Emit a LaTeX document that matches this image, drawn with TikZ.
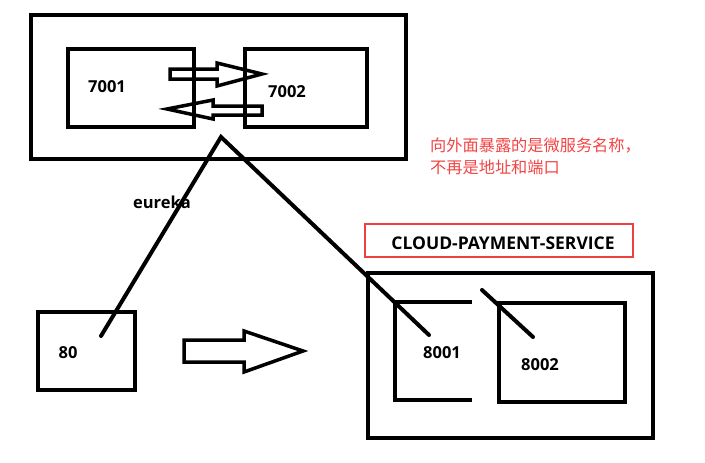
\documentclass[tikz,border=0pt]{standalone}
\usepackage{fontspec}
\setmainfont{Open Sans}
\newfontfamily\cjk{Noto Sans CJK SC}
\definecolor{redbox}{RGB}{238,64,64}
\definecolor{redtext}{RGB}{242,68,68}
\tikzset{
  bigbox/.style={draw=black, line width=4.5pt, inner sep=0pt, outer sep=0pt},
  connector/.style={draw=black, line width=4pt, line cap=round},
  blockarrow/.style={draw=black, line width=3.5pt, line join=miter},
  lbl/.style={font=\bfseries\fontsize{16.5}{19}\selectfont, inner sep=0pt},
}
\begin{document}
\begin{tikzpicture}[x=1pt,y=-1pt]
\useasboundingbox (0,0) rectangle (705,463);
% eureka cluster
\node[bigbox, minimum width=375pt, minimum height=144pt] (eurekabox) at (218.5,87) {};
\node[bigbox, minimum width=126pt, minimum height=78pt] (b7001) at (131,88) {};
\node[bigbox, minimum width=122pt, minimum height=78pt] (b7002) at (306,88) {};
\node[lbl] (t7001) at (107,87) {7001};
\node[lbl] (t7002) at (287,92) {7002};
\draw[blockarrow] (170,69) -- (217,69) -- (217,63) -- (262,74) -- (217,86) -- (217,79) -- (170,79) -- cycle;
\draw[blockarrow] (167,109) -- (213,100) -- (213,106) -- (262,106) -- (262,115) -- (213,115) -- (213,119) -- cycle;
% consumer
\node[bigbox, minimum width=97pt, minimum height=78pt] (b80) at (86.5,351) {};
\node[lbl] (t80) at (68,353) {80};
\draw[blockarrow] (184,340) -- (244,340) -- (244,331) -- (303,351) -- (244,372) -- (244,362) -- (184,362) -- cycle;
% payment service
\node[draw=redbox, line width=2.5pt, minimum width=268pt, minimum height=33pt, inner sep=0pt] (redlabel) at (499,240.5) {};
\node[font=\bfseries\fontsize{17.5}{20}\selectfont, inner sep=0pt] (tservice) at (503,243) {CLOUD-PAYMENT-SERVICE};
\node[bigbox, minimum width=285pt, minimum height=165pt] (paybox) at (510.5,355.5) {};
\coordinate (b8001a) at (472,302);
\coordinate (b8001b) at (395,302);
\coordinate (b8001c) at (395,400);
\coordinate (b8001d) at (472,400);
\draw[black, line width=4.5pt] (b8001a) -- (b8001b) -- (b8001c) -- (b8001d);
\node[bigbox, minimum width=126pt, minimum height=99pt] (b8002) at (562,352.5) {};
\node[lbl] (t8001) at (442,353) {8001};
\node[lbl] (t8002) at (540,365) {8002};
% connectors
\coordinate (apex) at (221,137);
\coordinate (end80) at (101,336);
\coordinate (end8001) at (429,335);
\coordinate (s8002) at (482,290);
\coordinate (end8002) at (533,337);
\draw[connector] (end80) -- (apex) -- (end8001);
\draw[connector] (s8002) -- (end8002);
\node[lbl] (teureka) at (162,202) {eureka};
% note
\node[anchor=west, align=left, inner sep=0pt, text=redtext, font=\cjk\fontsize{16.2}{22}\selectfont] (note) at (430,156) {向外面暴露的是微服务名称，\\不再是地址和端口};
\end{tikzpicture}
\end{document}
